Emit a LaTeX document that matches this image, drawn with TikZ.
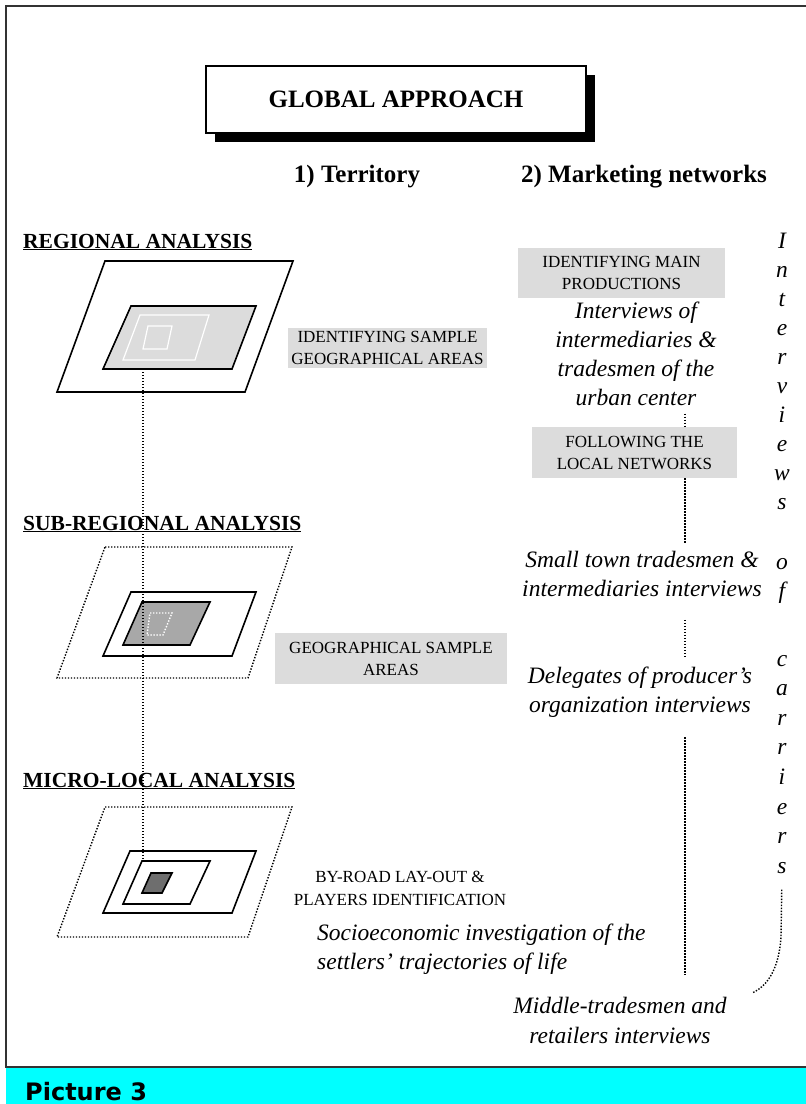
\documentclass[tikz,border=0pt]{standalone}
\usepackage{fontspec}
\setmainfont{Liberation Serif}
\newfontfamily\capfont{DejaVu Sans}
\usetikzlibrary{shadows}

\definecolor{boxgray}{HTML}{DCDCDC}
\definecolor{midgray}{HTML}{A8A8A8}
\definecolor{deepgray}{HTML}{6E6E6E}
\definecolor{bandcyan}{HTML}{00FFFF}

\begin{document}
\begin{tikzpicture}[x=1pt, y=-1pt,
    outline/.style={line width=1.6pt},
    dotline/.style={line width=1.4pt, dash pattern=on 1.4pt off 1.6pt},
    titlebox/.style={draw, fill=white, line width=1.2pt, minimum width=380pt, minimum height=67pt,
        font=\fontsize{25}{30}\selectfont\bfseries,
        drop shadow={shadow xshift=9pt, shadow yshift=-9pt, fill=black, opacity=1}},
    heading/.style={font=\fontsize{25}{30}\selectfont\bfseries},
    level/.style={anchor=base west, inner sep=0pt, font=\fontsize{21.5}{26}\selectfont\bfseries},
    graybox/.style={fill=boxgray, inner sep=0pt, align=center, font=\fontsize{17}{22}\selectfont},
    plaincaps/.style={inner sep=0pt, align=center, font=\fontsize{17}{23}\selectfont},
    note/.style={align=center, inner sep=8pt, font=\fontsize{23.5}{29}\selectfont\itshape},
    vletter/.style={anchor=base, inner sep=0pt, font=\fontsize{23.5}{29}\selectfont\itshape}]

\useasboundingbox (0,0) rectangle (806,1104);

% Define a variable for the columns
\def\colx{782}
\def\netx{685}

% Frame and caption band
\fill[bandcyan] (6,1068) rectangle (806,1104);
\draw[line width=2pt, black!80] (810,6) -- (6,6) -- (6,1067) -- (810,1067);
\node[anchor=base west, inner sep=0pt, font=\capfont\bfseries\fontsize{24}{28}\selectfont] (caption) at (25,1100) {Picture 3};

% Title and column headings
\node[titlebox] (title) at (396,99.5) {GLOBAL APPROACH};
\node[heading] (terr) at (357,177) {1) Territory};
\node[heading] (mkt) at (644,177) {2) Marketing networks};

% Levels of analysis
\node[level] (reg) at (23,248) {\underline{REGIONAL ANALYSIS}};
\node[level] (subreg) at (23,530) {\underline{SUB-REGIONAL ANALYSIS}};
\node[level] (micro) at (23,787) {\underline{MICRO-LOCAL ANALYSIS}};

% Regional areas
\draw[outline] (105,261) -- (293,261) -- (245,392) -- (57,392) -- cycle;
\draw[outline, fill=boxgray] (131,306) -- (256,306) -- (232,369) -- (103,369) -- cycle;
\draw[white, line width=1.2pt] (140,315) -- (209,315) -- (195,360) -- (123,360) -- cycle;
\draw[white, line width=1.2pt] (148,326) -- (172,326) -- (167,349) -- (143,349) -- cycle;

% Sub-regional areas
\begin{scope}[shift={(0,286)}]
\draw[dotline] (105,261) -- (292,261) -- (248,392) -- (57,392) -- cycle;
\draw[outline] (131,306) -- (256,306) -- (232,370) -- (103,370) -- cycle;
\draw[outline, fill=midgray] (142,316) -- (210,316) -- (190,359) -- (123,359) -- cycle;
\draw[white, dotline] (150,327) -- (172,327) -- (163,349) -- (147,349) -- cycle;
\end{scope}

% Micro-local areas
\begin{scope}[shift={(0,546)}]
\draw[dotline] (105,261) -- (292,261) -- (248,391) -- (57,391) -- cycle;
\draw[outline] (130,305) -- (256,305) -- (232,367) -- (103,367) -- cycle;
\draw[outline] (142,315) -- (210,315) -- (190,358) -- (123,358) -- cycle;
\draw[outline, fill=deepgray] (151,327) -- (172,327) -- (162,347) -- (142,347) -- cycle;
\end{scope}

% Territory boxes
\node[graybox, minimum width=199pt, minimum height=40pt] (idsample) at (387.5,348) {IDENTIFYING SAMPLE\\GEOGRAPHICAL AREAS};
\node[graybox, minimum width=232pt, minimum height=51pt] (geosample) at (391,658.5) {GEOGRAPHICAL SAMPLE\\AREAS};
\node[plaincaps] (byroad) at (400,888) {BY-ROAD LAY-OUT \&\\PLAYERS IDENTIFICATION};
\node[note, align=left, anchor=west] (socio) at (309,949) {Socioeconomic investigation of the\\settlers’ trajectories of life};

% Marketing network steps
\node[graybox, minimum width=207pt, minimum height=50pt] (mainprod) at (621.5,273) {IDENTIFYING MAIN\\PRODUCTIONS};
\node[note] (urban) at (636,353.5) {Interviews of\\intermediaries \&\\tradesmen of the\\urban center};
\node[graybox, minimum width=205pt, minimum height=51pt] (follow) at (634.5,452.5) {FOLLOWING THE\\LOCAL NETWORKS};
\node[note] (small) at (642,574) {Small town tradesmen \&\\intermediaries interviews};
\node[note] (deleg) at (640,692) {Delegates of producer’s\\organization interviews};
\node[note, font=\fontsize{23.5}{30}\selectfont\itshape] (middle) at (620,1020) {Middle-tradesmen and\\retailers interviews};

% Vertical words
\foreach \ch [count=\k] in {I,n,t,e,r,v,i,e,w,s} {
    \node[vletter] (int\k) at (\colx, {248 + 29*(\k-1)}) {\ch};
}
\node[vletter] (of1) at (\colx, 569) {o};
\node[vletter] (of2) at (\colx, 598) {f};
\foreach \ch [count=\k] in {c,a,r,r,i,e,r,s} {
    \node[vletter] (car\k) at (\colx, {666 + 29.6*(\k-1)}) {\ch};
}

% Connections
\coordinate (regbot) at (143,369);
\coordinate (microtop) at (143,861);
\draw[dotline] (regbot) -- (microtop);

\coordinate (netcol) at (\netx,0);
\coordinate (netend) at (\netx,975);
\draw[dotline] (urban.south -| netcol) -- (follow.north -| netcol);
\draw[dotline] (follow.south -| netcol) -- (small.north -| netcol);
\draw[dotline, shorten <=15pt] (small.south -| netcol) -- (deleg.north -| netcol);
\draw[dotline, shorten <=12pt] (deleg.south -| netcol) -- (netend);

\coordinate (tailend) at (752,993);
\draw[dotline, shorten <=16pt] (car8.south) -- (781,937) .. controls (779,968) and (768,986) .. (tailend);

\end{tikzpicture}
\end{document}
